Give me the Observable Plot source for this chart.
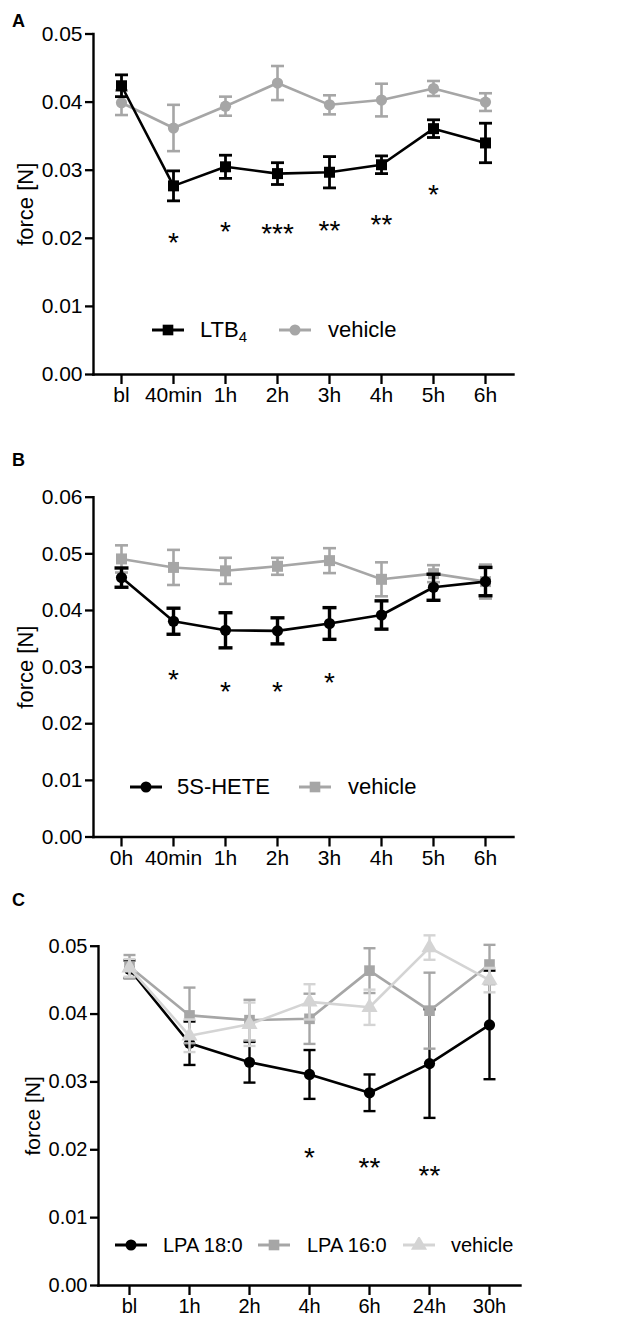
<!DOCTYPE html>
<html>
<head>
<meta charset="utf-8">
<script src="https://cdn.jsdelivr.net/npm/d3@7"></script>
<script src="https://cdn.jsdelivr.net/npm/@observablehq/plot@0.6"></script>
<style>
  html, body { margin: 0; padding: 0; background: #fff; }
  body { font-family: "Liberation Sans", Arial, sans-serif; color: #000; width: 637px; }
  .panel { position: relative; width: 637px; }
  .panel svg { display: block; }
  .letter { position: absolute; left: 12px; font-weight: bold; font-size: 18px; line-height: 1; }
  .leg { position: absolute; display: flex; align-items: center; white-space: nowrap; transform: translateY(-50%); }
  .legtext { position: absolute; white-space: nowrap; transform: translateY(-50%); line-height: 1; }
  sub { font-size: 0.68em; vertical-align: -0.35em; line-height: 0; }
</style>
</head>
<body>
<div id="A" class="panel"></div>
<div id="B" class="panel"></div>
<div id="C" class="panel"></div>
<script>
// ---------- Panel A ----------
const timesA = ["bl", "40min", "1h", "2h", "3h", "4h", "5h", "6h"];
const ltb4Mean = [0.0424, 0.0277, 0.0305, 0.0295, 0.0297, 0.0308, 0.0361, 0.0340];
const ltb4Sem  = [0.0016, 0.0022, 0.0017, 0.0016, 0.0023, 0.0013, 0.0013, 0.0029];
const vehAMean = [0.0399, 0.0362, 0.0394, 0.0428, 0.0396, 0.0403, 0.0420, 0.0400];
const vehASem  = [0.0018, 0.0034, 0.0014, 0.0025, 0.0014, 0.0024, 0.0011, 0.0013];
const sigATimes  = ["40min", "1h", "2h", "3h", "4h", "5h"];
const sigAValues = [0.0204, 0.0220, 0.0217, 0.0222, 0.0231, 0.0275];
const sigALabels = ["*", "*", "***", "**", "**", "*"];
const yTicksA = [0, 0.01, 0.02, 0.03, 0.04, 0.05];

// ---------- Panel B ----------
const timesB = ["0h", "40min", "1h", "2h", "3h", "4h", "5h", "6h"];
const heteMean = [0.0458, 0.0381, 0.0365, 0.0364, 0.0377, 0.0392, 0.0441, 0.0451];
const heteSem  = [0.0017, 0.0023, 0.0031, 0.0023, 0.0028, 0.0025, 0.0023, 0.0025];
const vehBMean = [0.0491, 0.0476, 0.0470, 0.0478, 0.0488, 0.0455, 0.0465, 0.0451];
const vehBSem  = [0.0024, 0.0031, 0.0023, 0.0015, 0.0022, 0.0030, 0.0015, 0.0030];
const sigBTimes  = ["40min", "1h", "2h", "3h"];
const sigBValues = [0.0291, 0.0270, 0.0270, 0.0285];
const sigBLabels = ["*", "*", "*", "*"];
const yTicksB = [0, 0.01, 0.02, 0.03, 0.04, 0.05, 0.06];

// ---------- Panel C ----------
const timesC = ["bl", "1h", "2h", "4h", "6h", "24h", "30h"];
const lpa18Mean = [0.0466, 0.0357, 0.0329, 0.0311, 0.0284, 0.0327, 0.0384];
const lpa18Sem  = [0.0013, 0.0032, 0.0030, 0.0036, 0.0027, 0.0080, 0.0080];
const lpa16Mean = [0.0470, 0.0398, 0.0391, 0.0393, 0.0464, 0.0405, 0.0473];
const lpa16Sem  = [0.0017, 0.0041, 0.0030, 0.0037, 0.0033, 0.0056, 0.0029];
const vehCMean  = [0.0468, 0.0368, 0.0385, 0.0418, 0.0410, 0.0498, 0.0450];
const vehCSem   = [0.0013, 0.0024, 0.0032, 0.0026, 0.0026, 0.0018, 0.0018];
const sigCTimes  = ["4h", "6h", "24h"];
const sigCValues = [0.0199, 0.0184, 0.0172];
const sigCLabels = ["*", "**", "**"];
const yTicksC = [0, 0.01, 0.02, 0.03, 0.04, 0.05];

const yLabel = "force [N]";
const BLACK = "#000000", GREY = "#a6a6a6", LIGHT = "#d4d4d4";
const FONT = "'Liberation Sans', Arial, Helvetica, sans-serif";

function toRows(times, mean, sem) {
  return times.map((t, i) => ({t, m: mean[i], lo: mean[i] - sem[i], hi: mean[i] + sem[i]}));
}
function capSymbol(w) {
  return {draw(ctx) { ctx.moveTo(-w, 0); ctx.lineTo(w, 0); }};
}
function seriesMarks(rows, color, symbol, r, capW, barW) {
  const cap = capSymbol(capW);
  return [
    Plot.line(rows, {x: "t", y: "m", stroke: color, strokeWidth: 2.6}),
    Plot.ruleX(rows, {x: "t", y1: "lo", y2: "hi", stroke: color, strokeWidth: barW}),
    Plot.dot(rows, {x: "t", y: "lo", symbol: cap, r: 1, fill: "none", stroke: color, strokeWidth: barW}),
    Plot.dot(rows, {x: "t", y: "hi", symbol: cap, r: 1, fill: "none", stroke: color, strokeWidth: barW}),
    Plot.dot(rows, {x: "t", y: "m", symbol, r, fill: color, stroke: "none"})
  ];
}
function makePlot(o) {
  const sig = o.sigTimes.map((t, i) => ({t, v: o.sigValues[i], s: o.sigLabels[i]}));
  return Plot.plot({
    width: 637, height: o.height,
    marginLeft: o.ml, marginRight: o.mr, marginTop: o.mt, marginBottom: o.mb,
    style: {fontFamily: FONT, fontSize: o.fs + "px", color: "#000", background: "#fff", overflow: "visible"},
    x: {type: "point", domain: o.times, padding: 0.5},
    y: {domain: [0, o.ymax]},
    marks: [
      Plot.axisY({ticks: o.yTicks, tickFormat: d3.format(".2f"), tickSize: 8, tickPadding: 3, strokeWidth: 2.3, label: null, fontSize: o.fs}),
      Plot.axisX({tickSize: 10, tickPadding: 3, strokeWidth: 2.3, label: null, fontSize: o.fs}),
      Plot.frame({anchor: "left", stroke: "#000", strokeWidth: 2.4}),
      Plot.frame({anchor: "bottom", stroke: "#000", strokeWidth: 2.4}),
      Plot.text([yLabel], {frameAnchor: "left", rotate: -90, dx: o.labelDx, fontSize: o.fs + 1, textAnchor: "middle", lineAnchor: "middle"}),
      ...o.series.flatMap(s => seriesMarks(s.rows, s.color, s.symbol, s.r, s.capW, s.barW)),
      Plot.text(sig, {x: "t", y: "v", text: "s", fontSize: 28, dy: 7.5, fill: "#000"})
    ]
  });
}

function symbolPath(symbol, r) {
  const map = {square: d3.symbolSquare, circle: d3.symbolCircle, triangle: d3.symbolTriangle};
  return d3.symbol(map[symbol], Math.PI * r * r)();
}
function addLegend(panel, yc, items, fs) {
  items.forEach(it => {
    const sw = document.createElement("div");
    sw.className = "leg";
    sw.style.left = it.x + "px";
    sw.style.top = yc + "px";
    const w = 32;
    sw.innerHTML = `<svg width="${w}" height="16" viewBox="0 0 ${w} 16">
      <line x1="0" x2="${w}" y1="8" y2="8" stroke="${it.color}" stroke-width="3"/>
      <path transform="translate(${w/2},8)" d="${symbolPath(it.symbol, it.r)}" fill="${it.color}"/></svg>`;
    panel.appendChild(sw);
    const tx = document.createElement("div");
    tx.className = "legtext";
    tx.style.left = it.tx + "px";
    tx.style.top = yc + "px";
    tx.style.fontSize = fs + "px";
    tx.innerHTML = it.label;
    panel.appendChild(tx);
  });
}
function addLetter(panel, letter, top) {
  const d = document.createElement("div");
  d.className = "letter";
  d.style.top = top + "px";
  d.textContent = letter;
  panel.appendChild(d);
}

// Panel A
const pA = document.getElementById("A");
pA.style.height = "430px";
pA.appendChild(makePlot({
  height: 430, ml: 93, mr: 124, mt: 33.5, mb: 56, ymax: 0.05, fs: 21, labelDx: -68,
  times: timesA, yTicks: yTicksA,
  sigTimes: sigATimes, sigValues: sigAValues, sigLabels: sigALabels,
  series: [
    {rows: toRows(timesA, vehAMean, vehASem), color: GREY, symbol: "circle", r: 5.6, capW: 6.5, barW: 2.6},
    {rows: toRows(timesA, ltb4Mean, ltb4Sem), color: BLACK, symbol: "square", r: 6.2, capW: 6.5, barW: 2.8}
  ]
}));
addLetter(pA, "A", 12);
addLegend(pA, 330, [
  {x: 152, tx: 200, color: BLACK, symbol: "square", r: 6, label: "LTB<sub>4</sub>"},
  {x: 279, tx: 328, color: GREY, symbol: "circle", r: 5.5, label: "vehicle"}
], 22);

// Panel B
const pB = document.getElementById("B");
pB.style.height = "450px";
pB.appendChild(makePlot({
  height: 450, ml: 93, mr: 124, mt: 66.7, mb: 43.5, ymax: 0.06, fs: 21, labelDx: -68,
  times: timesB, yTicks: yTicksB,
  sigTimes: sigBTimes, sigValues: sigBValues, sigLabels: sigBLabels,
  series: [
    {rows: toRows(timesB, vehBMean, vehBSem), color: GREY, symbol: "square", r: 6.2, capW: 6.5, barW: 2.6},
    {rows: toRows(timesB, heteMean, heteSem), color: BLACK, symbol: "circle", r: 5.6, capW: 7, barW: 3.4}
  ]
}));
addLetter(pB, "B", 21);
addLegend(pB, 356.7, [
  {x: 130, tx: 177, color: BLACK, symbol: "circle", r: 5.5, label: "5S-HETE"},
  {x: 299, tx: 348, color: GREY, symbol: "square", r: 6, label: "vehicle"}
], 22);

// Panel C
const pC = document.getElementById("C");
pC.style.height = "442px";
pC.appendChild(makePlot({
  height: 442, ml: 98, mr: 117, mt: 65.7, mb: 37, ymax: 0.05, fs: 20, labelDx: -65,
  times: timesC, yTicks: yTicksC,
  sigTimes: sigCTimes, sigValues: sigCValues, sigLabels: sigCLabels,
  series: [
    {rows: toRows(timesC, lpa18Mean, lpa18Sem), color: BLACK, symbol: "circle", r: 5.6, capW: 6, barW: 2.4},
    {rows: toRows(timesC, lpa16Mean, lpa16Sem), color: GREY, symbol: "square", r: 6, capW: 6, barW: 2.4},
    {rows: toRows(timesC, vehCMean, vehCSem), color: LIGHT, symbol: "triangle", r: 6, capW: 6, barW: 2.4}
  ]
}));
addLetter(pC, "C", 11);
addLegend(pC, 365, [
  {x: 115, tx: 163, color: BLACK, symbol: "circle", r: 5.5, label: "LPA 18:0"},
  {x: 258, tx: 307, color: GREY, symbol: "square", r: 6, label: "LPA 16:0"},
  {x: 403, tx: 451, color: LIGHT, symbol: "triangle", r: 6, label: "vehicle"}
], 20);
</script>
</body>
</html>
